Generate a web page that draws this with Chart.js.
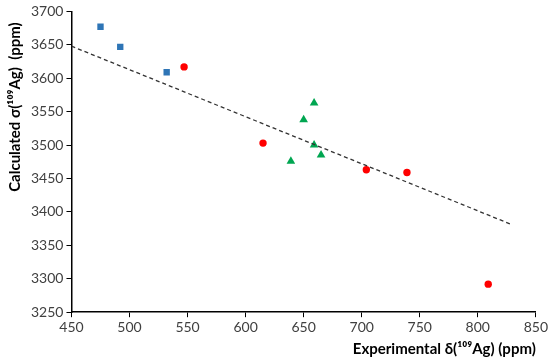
<!DOCTYPE html>
<html>
<head>
<meta charset="utf-8">
<script src="https://cdn.jsdelivr.net/npm/chart.js@4.4.0/dist/chart.umd.min.js"></script>
<style>
  html, body { margin: 0; padding: 0; background: #fff; }
  #wrap { width: 550px; height: 363px; }
</style>
</head>
<body>
<div id="wrap"><canvas id="grafica"></canvas></div>
<script>
// datos
const cuadradosX = [475, 492, 532];
const cuadradosY = [3677, 3647, 3609];

const circulosX = [547, 615, 704, 739, 809];
const circulosY = [3617, 3503, 3463, 3459, 3292];

const triangulosX = [659, 650, 659, 665, 639];
const triangulosY = [3563, 3538, 3500, 3485, 3476];

const tendenciaX = [450, 828];
const tendenciaY = [3648, 3382];

const ticksX = [450, 500, 550, 600, 650, 700, 750, 800, 850];
const ticksY = [3250, 3300, 3350, 3400, 3450, 3500, 3550, 3600, 3650, 3700];

const puntos = (xs, ys) => xs.map((x, i) => ({ x: x, y: ys[i] }));

const fuente = "Lato, 'Liberation Sans', sans-serif";

new Chart(document.getElementById('grafica'), {
  type: 'scatter',
  data: {
    datasets: [
      {
        label: 'tendencia',
        data: puntos(tendenciaX, tendenciaY),
        showLine: true,
        borderColor: '#333',
        borderWidth: 1.3,
        borderDash: [4, 3],
        pointRadius: 0,
        fill: false,
      },
      {
        label: 'cuadrados',
        data: puntos(cuadradosX, cuadradosY),
        pointStyle: 'rect',
        pointRadius: 4.5,
        backgroundColor: '#2E75B6',
        borderColor: '#2E75B6',
        borderWidth: 0,
      },
      {
        label: 'circulos',
        data: puntos(circulosX, circulosY),
        pointStyle: 'circle',
        pointRadius: 3.7,
        backgroundColor: '#FF0000',
        borderColor: '#FF0000',
        borderWidth: 0,
      },
      {
        label: 'triangulos',
        data: puntos(triangulosX, triangulosY),
        pointStyle: 'triangle',
        pointRadius: 5,
        backgroundColor: '#00A651',
        borderColor: '#00A651',
        borderWidth: 0,
      },
    ],
  },
  options: {
    responsive: true,
    maintainAspectRatio: false,
    animation: false,
    layout: { padding: { top: 8, right: 8, left: 6, bottom: 5 } },
    plugins: {
      legend: { display: false },
      tooltip: { enabled: false },
    },
    scales: {
      x: {
        type: 'linear',
        min: 450,
        max: 850,
        afterBuildTicks: axis => { axis.ticks = ticksX.map(v => ({ value: v })); },
        ticks: {
          color: '#404040',
          font: { family: fuente, size: 14 },
          padding: 2,
          callback: v => String(v),
        },
        grid: {
          drawOnChartArea: false,
          drawTicks: true,
          tickLength: 5,
          color: '#000',
        },
        border: { color: '#000', width: 1.5 },
        title: {
          display: true,
          text: 'Experimental δ(¹⁰⁹Ag) (ppm)',
          align: 'end',
          color: '#000',
          font: { family: fuente, size: 15, weight: 'bold' },
          padding: { top: 2, bottom: 0 },
        },
      },
      y: {
        type: 'linear',
        min: 3250,
        max: 3700,
        afterBuildTicks: axis => { axis.ticks = ticksY.map(v => ({ value: v })); },
        ticks: {
          color: '#404040',
          font: { family: fuente, size: 14 },
          padding: 3,
          callback: v => String(v),
        },
        grid: {
          drawOnChartArea: false,
          drawTicks: true,
          tickLength: 5,
          color: '#000',
        },
        border: { color: '#000', width: 1.5 },
        title: {
          display: true,
          text: 'Calculated σ(¹⁰⁹Ag)  (ppm)   ',
          align: 'end',
          color: '#000',
          font: { family: fuente, size: 15, weight: 'bold' },
          padding: { top: 0, bottom: 4 },
        },
      },
    },
  },
});
</script>
</body>
</html>
